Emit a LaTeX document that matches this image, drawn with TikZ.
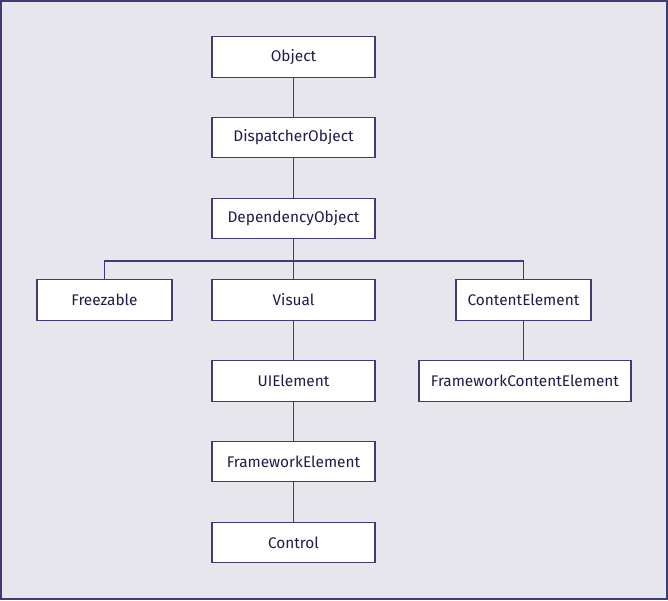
\documentclass[tikz,border=0pt]{standalone}
\usepackage{fontspec}
\setmainfont{Fira Sans}
\definecolor{navy}{HTML}{3E3C78}
\definecolor{ink}{HTML}{1E1C4A}
\definecolor{paper}{HTML}{E7E6EC}
\begin{document}
\begin{tikzpicture}[
    x=1pt, y=-1pt,
    every node/.style={align=center},
    class box/.style={draw=navy, fill=white, line width=1.2pt, text=ink,
        minimum width=163pt, minimum height=40.5pt, font=\fontsize{15.4}{17}\selectfont},
    short box/.style={class box, minimum width=135pt},
    wide box/.style={class box, minimum width=212pt},
    link/.style={draw=navy, line width=1.2pt},
    ]
\draw[draw=navy, fill=paper, line width=2pt] (1,1) rectangle (667,599);
\useasboundingbox (0,0) rectangle (668,600);
\node[class box] (Object) at (293.5,57) {Object};
\node[class box] (Dispatcher) at (293.5,137.5) {DispatcherObject};
\node[class box] (Dependency) at (293.5,218.5) {DependencyObject};
\draw[link] (Object) -- (Dispatcher);
\draw[link] (Dispatcher) -- (Dependency);
\coordinate (bar) at (293.5,261);
\node[short box] (Freezable) at (104.5,300) {Freezable};
\node[class box] (Visual) at (293.5,300) {Visual};
\node[short box] (Content) at (523.5,300) {ContentElement};
\draw[link] (Dependency) -- (Visual);
\draw[link] (bar) -| (Freezable);
\draw[link] (bar) -| (Content);
\node[class box] (UI) at (293.5,381) {UIElement};
\node[class box] (Framework) at (293.5,461.5) {FrameworkElement};
\node[class box] (Control) at (293.5,542.5) {Control};
\node[wide box] (FrameworkContent) at (525,381) {FrameworkContentElement};
\draw[link] (Visual) -- (UI);
\draw[link] (UI) -- (Framework);
\draw[link] (Framework) -- (Control);
\draw[link] (Content) -- (Content |- FrameworkContent.north);
\end{tikzpicture}
\end{document}
